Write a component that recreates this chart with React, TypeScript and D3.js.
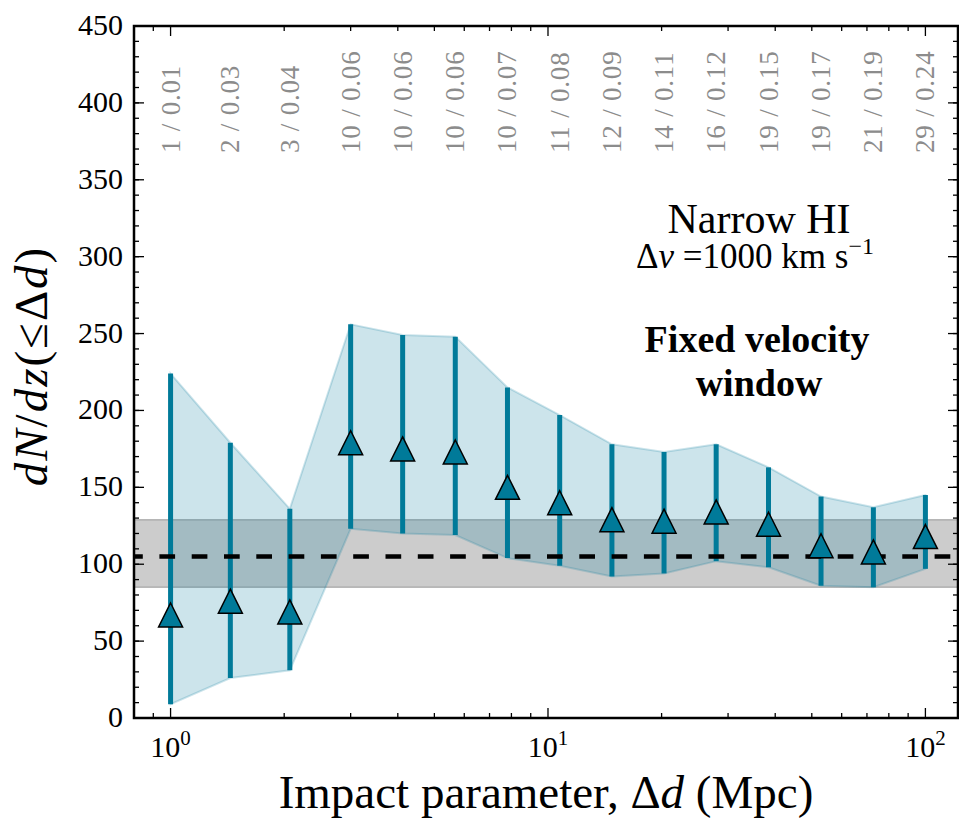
import React from 'react';
import * as d3 from 'd3';

// ---------- data ----------
const impactParams = [1.0, 1.44, 2.07, 3.0, 4.12, 5.68, 7.81, 10.74, 14.77, 20.3, 27.9, 38.4, 52.9, 72.8, 100];
const dNdz = [67, 76, 69, 179, 175, 173, 150, 140, 129, 128, 134, 126, 112, 108, 118];
const upperBound = [224, 179, 136, 256, 249, 248, 215, 197, 178, 173, 178, 163, 144, 137, 145];
const lowerBound = [9, 26, 31, 123, 120, 119, 104, 99, 92, 94, 102, 98, 86, 85, 97];
const countLabels = [
  '1 / 0.01', '2 / 0.03', '3 / 0.04', '10 / 0.06', '10 / 0.06', '10 / 0.06', '10 / 0.07',
  '11 / 0.08', '12 / 0.09', '14 / 0.11', '16 / 0.12', '19 / 0.15', '19 / 0.17', '21 / 0.19', '29 / 0.24',
];
const meanLevel = 105;
const bandRange = [85, 129];

const yMajorTicks = [0, 50, 100, 150, 200, 250, 300, 350, 400, 450];
const yTickLabels = ['0', '50', '100', '150', '200', '250', '300', '350', '400', '450'];
const yMinorTicks = d3.range(0, 451, 10);
const xMajorTicks = [1, 10, 100];
const xTickExponents = ['0', '1', '2'];
const xMinorTicks = [0.9, 2, 3, 4, 5, 6, 7, 8, 9, 20, 30, 40, 50, 60, 70, 80, 90];

// ---------- layout ----------
const W = 959;
const H = 822;
const M = { left: 134, right: 958, top: 26, bottom: 718 };
const FONT = '"Liberation Serif", "Times New Roman", "DejaVu Serif", serif';
const TEAL = '#007a99';

export default function App() {
  const x = d3.scaleLog().domain([0.8, 122]).range([M.left, M.right]);
  const y = d3.scaleLinear().domain([0, 450]).range([M.bottom, M.top]);

  const rows = impactParams.map((d, i) => ({
    x: d, v: dNdz[i], hi: upperBound[i], lo: lowerBound[i], label: countLabels[i],
  }));

  const area = d3.area<any>()
    .x((d) => x(d.x))
    .y0((d) => y(d.lo))
    .y1((d) => y(d.hi));

  const ms = 12; // half marker size
  const triangle = (cx: number, cy: number) =>
    `M${cx},${cy - ms}L${cx + ms},${cy + ms}L${cx - ms},${cy + ms}Z`;

  const xl = x.range()[0];
  const xr = x.range()[1];
  const ts: React.CSSProperties = { fontFamily: FONT };

  return (
    <svg width={W} height={H} style={{ position: 'absolute', left: 0, top: 0, background: '#fff', fontFamily: FONT }}>
      <defs>
        <clipPath id="plotClip">
          <rect x={M.left} y={M.top} width={M.right - M.left} height={M.bottom - M.top} />
        </clipPath>
      </defs>

      <g clipPath="url(#plotClip)">
        {/* grey band */}
        <rect x={xl} width={xr - xl} y={y(bandRange[1])} height={y(bandRange[0]) - y(bandRange[1])}
          fill="#808080" fillOpacity={0.4} />
        <line x1={xl} x2={xr} y1={y(bandRange[1])} y2={y(bandRange[1])} stroke="#808080" strokeOpacity={0.5} strokeWidth={1.5} />
        <line x1={xl} x2={xr} y1={y(bandRange[0])} y2={y(bandRange[0])} stroke="#808080" strokeOpacity={0.5} strokeWidth={1.5} />

        {/* shaded uncertainty envelope */}
        <path d={area(rows) || ''} fill={TEAL} fillOpacity={0.2} stroke={TEAL} strokeOpacity={0.2} strokeWidth={2} />

        {/* error bars */}
        {rows.map((d, i) => (
          <line key={'e' + i} x1={x(d.x)} x2={x(d.x)} y1={y(d.lo)} y2={y(d.hi)} stroke={TEAL} strokeWidth={5} />
        ))}

        {/* mean level */}
        <line x1={xl} x2={xr} y1={y(meanLevel)} y2={y(meanLevel)} stroke="#000" strokeWidth={4.5}
          strokeDasharray="15.7 16.6" strokeDashoffset={6.9} />

        {/* markers */}
        {rows.map((d, i) => (
          <path key={'m' + i} d={triangle(x(d.x), y(d.v))} fill={TEAL} stroke="#000" strokeWidth={1.5} strokeLinejoin="miter" />
        ))}
      </g>

      {/* count labels on top */}
      {rows.map((d, i) => (
        <text key={'c' + i} transform={`translate(${x(d.x)},153) rotate(-90)`} x={0} y={9}
          fontSize={27} letterSpacing={0.8} fill="#8c8c8c" textAnchor="start" style={ts}>{d.label}</text>
      ))}

      {/* ticks */}
      <g stroke="#000" strokeWidth={1.3}>
        {yMinorTicks.map((t) => (
          <g key={'ym' + t}>
            <line x1={M.left} x2={M.left + 5} y1={y(t)} y2={y(t)} />
            <line x1={M.right} x2={M.right - 5} y1={y(t)} y2={y(t)} />
          </g>
        ))}
        {yMajorTicks.map((t) => (
          <g key={'yM' + t}>
            <line x1={M.left} x2={M.left + 10} y1={y(t)} y2={y(t)} />
            <line x1={M.right} x2={M.right - 10} y1={y(t)} y2={y(t)} />
          </g>
        ))}
        {xMinorTicks.map((t) => (
          <g key={'xm' + t}>
            <line x1={x(t)} x2={x(t)} y1={M.bottom} y2={M.bottom - 5} />
            <line x1={x(t)} x2={x(t)} y1={M.top} y2={M.top + 5} />
          </g>
        ))}
        {xMajorTicks.map((t) => (
          <g key={'xM' + t}>
            <line x1={x(t)} x2={x(t)} y1={M.bottom} y2={M.bottom - 10} />
            <line x1={x(t)} x2={x(t)} y1={M.top} y2={M.top + 10} />
          </g>
        ))}
      </g>

      {/* frame */}
      <rect x={M.left} y={M.top} width={M.right - M.left} height={M.bottom - M.top}
        fill="none" stroke="#000" strokeWidth={2.5} />

      {/* y tick labels */}
      {yMajorTicks.map((t, i) => (
        <text key={'yl' + t} x={123} y={y(t) + 9} fontSize={30} textAnchor="end" fill="#000" style={ts}>{yTickLabels[i]}</text>
      ))}

      {/* x tick labels */}
      {xMajorTicks.map((t, i) => (
        <text key={'xl' + t} x={x(t)} y={757} fontSize={30} textAnchor="middle" fill="#000" style={ts}>
          10<tspan dy={-12} fontSize={21}>{xTickExponents[i]}</tspan>
        </text>
      ))}

      {/* axis labels */}
      <text x={546} y={808} fontSize={47} textAnchor="middle" fill="#000" style={ts}>
        Impact parameter, Δ<tspan fontStyle="italic">d</tspan> (Mpc)
      </text>
      <text transform="translate(47,366) rotate(-90)" fontSize={47} letterSpacing={2} textAnchor="middle" fill="#000" style={ts}>
        <tspan fontStyle="italic">dN</tspan>/<tspan fontStyle="italic">dz</tspan>(≤Δ<tspan fontStyle="italic">d</tspan>)
      </text>

      {/* annotations */}
      <text x={759} y={233} fontSize={42} textAnchor="middle" fill="#000" style={ts}>Narrow HI</text>
      <text x={755} y={268} fontSize={35} textAnchor="middle" fill="#000" style={ts}>
        Δ<tspan fontStyle="italic">v</tspan> =1000 km s<tspan dy={-14} fontSize={24}>−1</tspan>
      </text>
      <text x={757} y={352} fontSize={38} fontWeight="bold" textAnchor="middle" fill="#000" style={ts}>Fixed velocity</text>
      <text x={759} y={396} fontSize={38} fontWeight="bold" textAnchor="middle" fill="#000" style={ts}>window</text>
    </svg>
  );
}
